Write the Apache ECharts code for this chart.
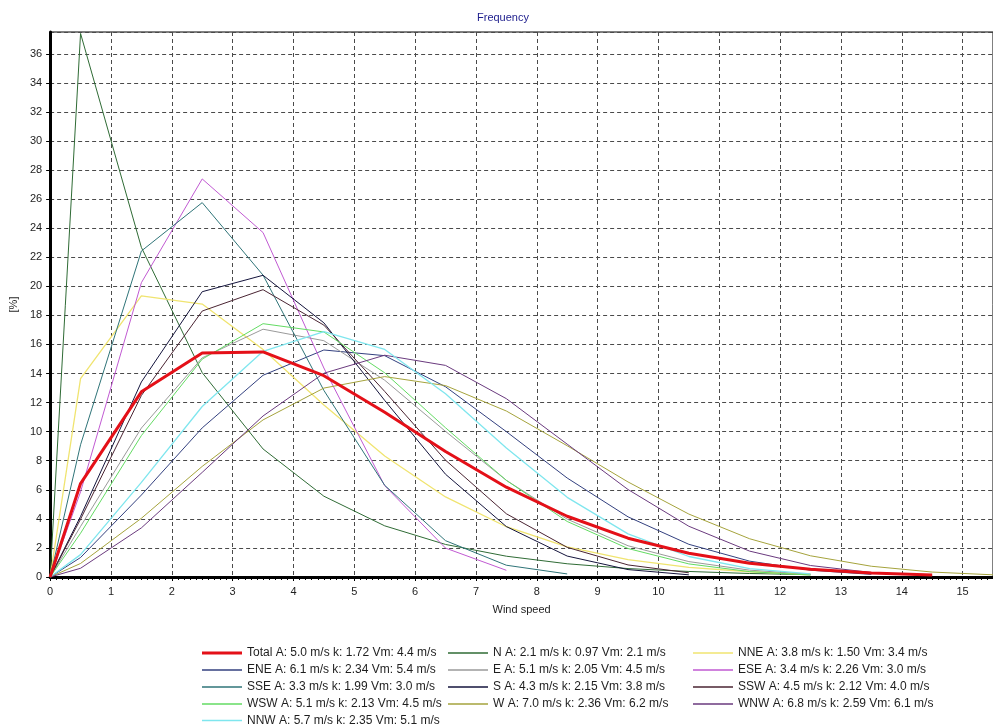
<!DOCTYPE html>
<html>
<head>
<meta charset="utf-8">
<title>Frequency</title>
<script src="https://cdn.jsdelivr.net/npm/echarts@6/dist/echarts.min.js"></script>
<style>
  html, body { margin: 0; padding: 0; background: #ffffff; }
  #chart { width: 993px; height: 725px; }
</style>
</head>
<body>
<div id="chart"></div>
<script>
// Wind speed bin centres [m/s]
const speeds = [0, 0.5, 1.5, 2.5, 3.5, 4.5, 5.5, 6.5, 7.5, 8.5, 9.5, 10.5, 11.5, 12.5, 13.5, 14.5, 15.5];

// Frequency [%] per direction sector, one value per speed bin
const total = [0, 6.43, 12.74, 15.41, 15.49, 13.85, 11.34, 8.64, 6.18, 4.18, 2.67, 1.63, 0.95, 0.53, 0.28, 0.14];
const sectorN = [0, 37.4, 22.68, 14.06, 8.81, 5.56, 3.52, 2.24, 1.43, 0.91, 0.58, 0.38, 0.24, 0.16];
const sectorNNE = [0, 13.65, 19.35, 18.78, 15.65, 11.84, 8.33, 5.51, 3.46, 2.08, 1.20, 0.66, 0.36, 0.18];
const sectorENE = [0, 1.34, 5.64, 10.26, 13.88, 15.62, 15.23, 13.09, 10.00, 6.81, 4.14, 2.25, 1.09, 0.47, 0.18];
const sectorE = [0, 3.48, 10.25, 15.08, 17.05, 16.26, 13.54, 10.02, 6.65, 3.98, 2.15, 1.06, 0.47, 0.19];
const sectorESE = [0, 5.86, 20.25, 27.39, 23.70, 14.38, 6.28, 1.99, 0.46];
const sectorSSE = [0, 9.10, 22.43, 25.76, 20.77, 12.84, 6.31, 2.50, 0.81, 0.21];
const sectorS = [0, 4.17, 13.42, 19.63, 20.76, 17.49, 12.15, 7.07, 3.47, 1.44, 0.51, 0.15];
const sectorSSW = [0, 3.98, 12.49, 18.30, 19.77, 17.33, 12.77, 8.04, 4.35, 2.04, 0.83, 0.29];
const sectorWSW = [0, 3.01, 9.73, 14.99, 17.43, 16.86, 14.05, 10.27, 6.65, 3.82, 1.96, 0.90, 0.37, 0.13];
const sectorW = [0, 0.93, 4.04, 7.61, 10.81, 13.00, 13.79, 13.17, 11.42, 9.03, 6.54, 4.33, 2.63, 1.46, 0.74, 0.34, 0.15];
const sectorWNW = [0, 0.60, 3.38, 7.20, 11.08, 14.02, 15.26, 14.56, 12.27, 9.14, 6.02, 3.49, 1.78, 0.79, 0.31, 0.10];
const sectorNNW = [0, 1.54, 6.51, 11.73, 15.53, 16.88, 15.66, 12.61, 8.88, 5.48, 2.97, 1.41, 0.58, 0.21];

// Legend texts (Weibull A, k and mean speed per sector)
const seriesLabels = [
  'Total A: 5.0 m/s k: 1.72 Vm: 4.4 m/s',
  'N A: 2.1 m/s k: 0.97 Vm: 2.1 m/s',
  'NNE A: 3.8 m/s k: 1.50 Vm: 3.4 m/s',
  'ENE A: 6.1 m/s k: 2.34 Vm: 5.4 m/s',
  'E A: 5.1 m/s k: 2.05 Vm: 4.5 m/s',
  'ESE A: 3.4 m/s k: 2.26 Vm: 3.0 m/s',
  'SSE A: 3.3 m/s k: 1.99 Vm: 3.0 m/s',
  'S A: 4.3 m/s k: 2.15 Vm: 3.8 m/s',
  'SSW A: 4.5 m/s k: 2.12 Vm: 4.0 m/s',
  'WSW A: 5.1 m/s k: 2.13 Vm: 4.5 m/s',
  'W A: 7.0 m/s k: 2.36 Vm: 6.2 m/s',
  'WNW A: 6.8 m/s k: 2.59 Vm: 6.1 m/s',
  'NNW A: 5.7 m/s k: 2.35 Vm: 5.1 m/s'
];
const seriesValues = [total, sectorN, sectorNNE, sectorENE, sectorE, sectorESE, sectorSSE,
  sectorS, sectorSSW, sectorWSW, sectorW, sectorWNW, sectorNNW];

const seriesColors = ['#e41018', '#2f6b35', '#f0e470', '#33407f', '#9a9a9a', '#c15ad2', '#2f7478',
  '#14143c', '#4a2432', '#63db63', '#a5a33c', '#6a3a7e', '#7fe6ee'];
const seriesWidths = [3, 1, 1.3, 1, 1, 1, 1, 1, 1, 1, 1, 1, 1.3];

// Legend grid: three columns, entries fill row by row
const legendColLefts = [202, 448, 693];
const legendRowCentres = [652, 669, 686, 703, 719.5];

const font = '"Liberation Sans", Arial, sans-serif';

// Plain line swatch for the legend, thicker for the total curve
function lineIcon(width) {
  return 'path://M0,0 L40,0 L40,' + width + ' L0,' + width + ' Z';
}

const series = seriesLabels.map((label, i) => ({
  name: label,
  type: 'line',
  data: seriesValues[i].map((v, j) => [speeds[j], v]),
  symbol: 'none',
  smooth: false,
  z: i === 0 ? 5 : 2,
  lineStyle: { color: seriesColors[i], width: seriesWidths[i] },
  itemStyle: { color: seriesColors[i] },
  emphasis: { disabled: true },
  animation: false
}));

// One legend component per entry so every row sits at a fixed place
const legends = seriesLabels.map((label, i) => ({
  orient: 'horizontal',
  left: legendColLefts[i % 3],
  top: legendRowCentres[Math.floor(i / 3)] - 5,
  padding: 0,
  itemWidth: 40,
  itemHeight: 10,
  selectedMode: false,
  data: [{
    name: label,
    icon: lineIcon(i === 0 ? 3 : 1.6),
    itemStyle: { color: seriesColors[i] }
  }],
  textStyle: { fontFamily: font, fontSize: 12, color: '#1e1e1e' }
}));

const chart = echarts.init(document.getElementById('chart'), null, { renderer: 'canvas' });
chart.setOption({
  animation: false,
  backgroundColor: '#ffffff',
  title: {
    text: 'Frequency',
    left: 472,
    top: 7,
    textStyle: { fontFamily: font, fontSize: 11, fontWeight: 'normal', color: '#1c1c8c' }
  },
  legend: legends,
  grid: {
    left: 48, right: 0, top: 32, bottom: 148,
    show: true, borderColor: '#000', borderWidth: 1, backgroundColor: 'transparent'
  },
  xAxis: {
    type: 'value',
    min: 0, max: 15.5, interval: 1,
    name: 'Wind speed',
    nameLocation: 'middle',
    nameGap: 27,
    nameTextStyle: { fontFamily: font, fontSize: 11, color: '#1e1e1e' },
    axisLine: { show: true, onZero: false, lineStyle: { color: '#000', width: 3 } },
    axisTick: { show: true, length: 4, lineStyle: { color: '#000' } },
    minorTick: { show: true, splitNumber: 10, length: 3, lineStyle: { color: '#000' } },
    axisLabel: { showMaxLabel: false, margin: 9, fontFamily: font, fontSize: 11, color: '#1e1e1e' },
    splitLine: { show: true, lineStyle: { color: '#4a4a4a', width: 1, type: [4, 3] } }
  },
  yAxis: {
    type: 'value',
    min: 0, max: 37.5, interval: 2,
    name: '[%]',
    nameLocation: 'middle',
    nameGap: 29,
    nameTextStyle: { fontFamily: font, fontSize: 11, color: '#1e1e1e' },
    axisLine: { show: true, onZero: false, lineStyle: { color: '#000', width: 3 } },
    axisTick: { show: true, length: 4, lineStyle: { color: '#000' } },
    axisLabel: { showMaxLabel: false, margin: 8, fontFamily: font, fontSize: 11, color: '#1e1e1e' },
    splitLine: { show: true, lineStyle: { color: '#4a4a4a', width: 1, type: [4, 3] } }
  },
  series: series
});
</script>
</body>
</html>
